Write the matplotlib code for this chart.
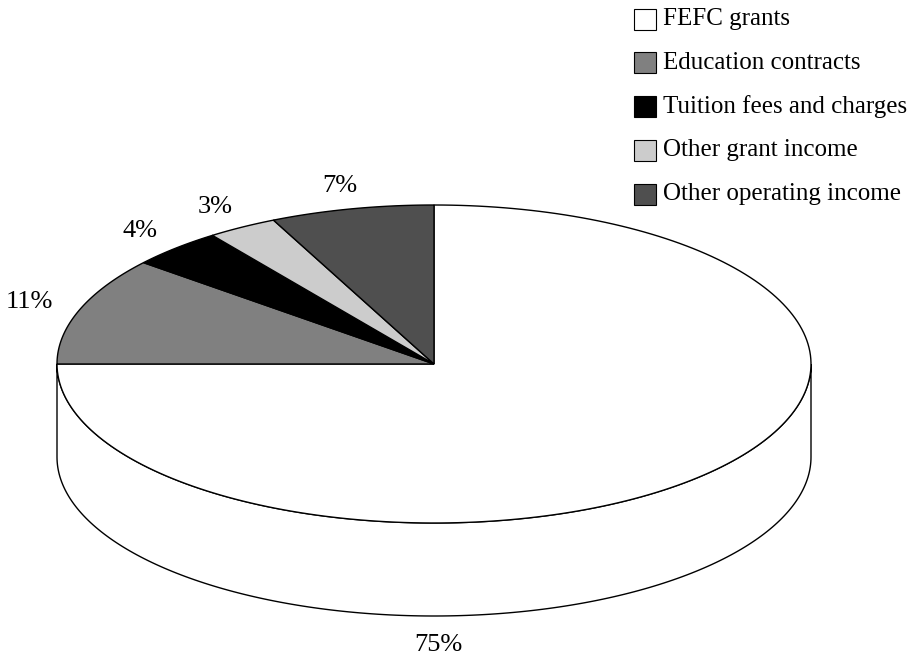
import numpy as np
import matplotlib
matplotlib.use("Agg")
import matplotlib.pyplot as plt
from matplotlib.patches import Polygon, Rectangle

# income shares, drawn clockwise from 12 o'clock
categories = ["FEFC grants", "Education contracts", "Tuition fees and charges",
              "Other grant income", "Other operating income"]
shares = [75, 11, 4, 3, 7]
pct_labels = ["75%", "11%", "4%", "3%", "7%"]
colors = ["#ffffff", "#808080", "#000000", "#cccccc", "#4f4f4f"]

# geometry of the tilted pie (pixel units)
cx, cy = 434, 364
rx, ry = 377, 159
depth = 93

plt.rcParams["font.family"] = ["Liberation Serif", "DejaVu Serif"]

fig = plt.figure(figsize=(9.12, 6.59), dpi=100)
ax = fig.add_axes([0, 0, 1, 1])
ax.set_xlim(0, 912)
ax.set_ylim(659, 0)
ax.axis("off")


def rim(t0, t1, n=200, dy=0):
    t = np.radians(np.linspace(t0, t1, n))
    return np.column_stack([cx + rx * np.cos(t), cy - ry * np.sin(t) + dy])


# front wall of the cylinder
wall = np.vstack([rim(180, 360), rim(360, 180, dy=depth)])
ax.add_patch(Polygon(wall, closed=True, facecolor="white",
                     edgecolor="black", lw=1.0, zorder=1))

# top face wedges
start = 90.0
mids = []
for val, col in zip(shares, colors):
    sweep = 360.0 * val / sum(shares)
    end = start - sweep
    pts = np.vstack([[cx, cy], rim(start, end)])
    ax.add_patch(Polygon(pts, closed=True, facecolor=col,
                         edgecolor="black", lw=1.0, joinstyle="miter", zorder=2))
    mids.append((start + end) / 2)
    start = end

# percentage labels
for i, (lab, m) in enumerate(zip(pct_labels, mids)):
    if i == 0:
        x, y = cx + 4, cy + ry + depth + 29
    else:
        t = np.radians(m)
        x, y = cx + 1.14 * rx * np.cos(t), cy - 1.15 * ry * np.sin(t)
    ax.text(x, y, lab, fontsize=19, ha="center", va="center")

# legend
for i, (name, col) in enumerate(zip(categories, colors)):
    yc = 19 + i * 43.8
    ax.add_patch(Rectangle((634, yc - 10.5), 22, 21, facecolor=col,
                           edgecolor="black", lw=0.8))
    ax.text(663, yc, name, fontsize=18, ha="left", va="center")

fig.savefig("out.png", dpi=100)
